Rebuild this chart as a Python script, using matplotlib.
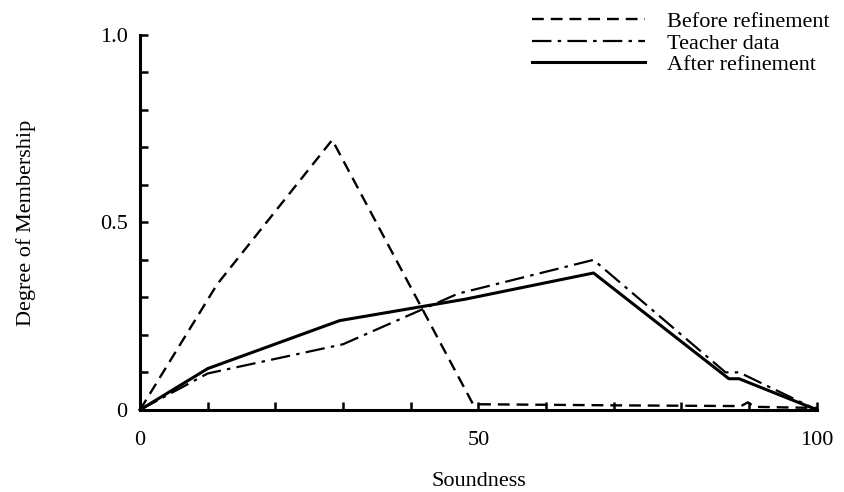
import matplotlib
matplotlib.use("Agg")
import numpy as np
from matplotlib import pyplot as plt

# values
antes_x = [0, 11.4, 28.4, 49.2, 70, 88.8, 89.8, 90.8, 100]
antes_y = [0, 0.335, 0.72, 0.015, 0.012, 0.01, 0.02, 0.008, 0.005]

professor_x = [0, 10, 30, 47, 67, 86.5, 88.5, 100]
professor_y = [0, 0.097, 0.175, 0.31, 0.40, 0.10, 0.10, 0]

depois_x = [0, 10, 29.5, 48, 67, 87, 88.5, 100]
depois_y = [0, 0.11, 0.238, 0.295, 0.365, 0.083, 0.083, 0]

rotulos = ["Before refinement", "Teacher data", "After refinement"]

x_ticks = np.arange(0, 101, 10)
x_rotulos = ["0", "", "", "", "", "50", "", "", "", "", "100"]
y_ticks = np.arange(0, 1.01, 0.1)
y_rotulos = ["0", "", "", "", "", "0.5", "", "", "", "", "1.0"]

plt.rcParams["font.family"] = ["Liberation Serif", "DejaVu Serif"]
plt.rcParams["font.size"] = 16
plt.rcParams["lines.scale_dashes"] = False

fig = plt.figure(figsize=(8.45, 4.92), dpi=100)
ax = fig.add_axes([0.1657, 0.167, 0.801, 0.762])

ax.plot(antes_x, antes_y, color="black", linewidth=1.7,
        linestyle=(0, (8.5, 5)), label=rotulos[0], clip_on=False)
ax.plot(professor_x, professor_y, color="black", linewidth=1.6,
        linestyle=(0, (14, 4.5, 2.5, 4.5)), label=rotulos[1], clip_on=False)
ax.plot(depois_x, depois_y, color="black", linewidth=2.2,
        linestyle="-", label=rotulos[2], clip_on=False)

ax.set_xlim(0, 100)
ax.set_ylim(0, 1.0)
ax.set_xticks(x_ticks)
ax.set_xticklabels(x_rotulos)
ax.set_yticks(y_ticks)
ax.set_yticklabels(y_rotulos)
ax.tick_params(direction="in", length=6, width=1.8, labelsize=16)
ax.tick_params(axis="x", pad=15)
ax.tick_params(axis="y", pad=9)

for lado in ["top", "right"]:
    ax.spines[lado].set_visible(False)
for lado in ["left", "bottom"]:
    ax.spines[lado].set_linewidth(2.2)

ax.set_xlabel("Soundness", fontsize=16, labelpad=16)
ax.set_ylabel("Degree of Membership", fontsize=16, labelpad=46)

fig.legend(loc="upper right", bbox_to_anchor=(0.998, 1.004), frameon=False,
           fontsize=16, handlelength=5.1, handletextpad=1.0,
           labelspacing=0.05, borderpad=0.1)

plt.savefig("out.png", dpi=100)
